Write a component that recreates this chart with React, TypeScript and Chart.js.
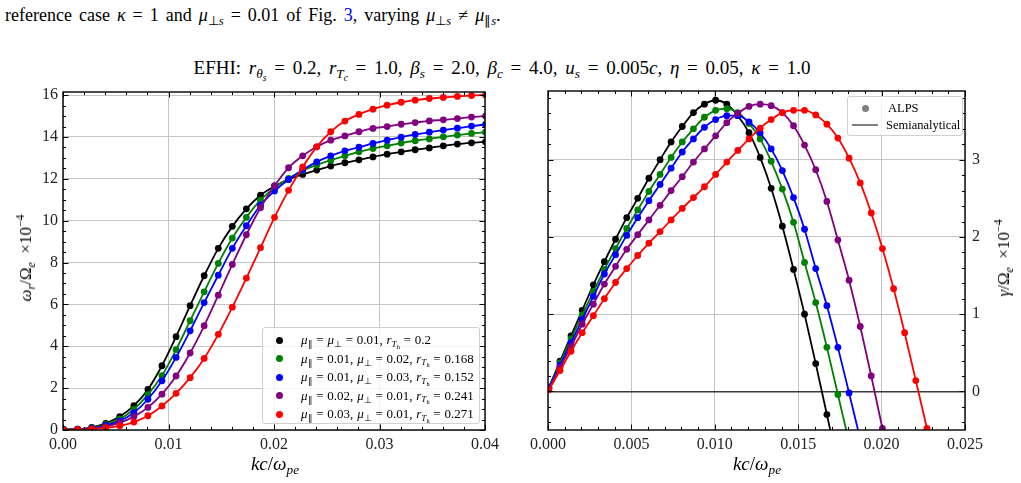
import React, { useEffect, useRef } from 'react';
import { Chart, registerables } from 'chart.js';
Chart.register(...registerables);

// ---------------- data ----------------
const kLeft = [0.00005, 0.00138, 0.00272, 0.00405, 0.00538, 0.00672, 0.00805, 0.00938, 0.01072, 0.01205, 0.01338, 0.01472, 0.01605, 0.01738, 0.01872, 0.02005, 0.02138, 0.02272, 0.02405, 0.02538, 0.02672, 0.02805, 0.02938, 0.03072, 0.03205, 0.03338, 0.03472, 0.03605, 0.03738, 0.03872, 0.04005];
const wrBlack = [0.03, 0.04, 0.13, 0.32, 0.64, 1.16, 1.94, 3.07, 4.46, 5.94, 7.37, 8.68, 9.73, 10.57, 11.22, 11.65, 11.97, 12.21, 12.42, 12.61, 12.77, 12.91, 13.05, 13.18, 13.29, 13.39, 13.48, 13.58, 13.66, 13.72, 13.77];
const wrGreen = [0.03, 0.04, 0.10, 0.27, 0.52, 0.99, 1.69, 2.60, 3.84, 5.22, 6.60, 7.96, 9.17, 10.16, 10.98, 11.58, 12.02, 12.40, 12.66, 12.89, 13.10, 13.29, 13.45, 13.58, 13.71, 13.82, 13.91, 14.01, 14.09, 14.17, 14.23];
const wrBlue = [0.02, 0.03, 0.08, 0.22, 0.43, 0.83, 1.47, 2.35, 3.47, 4.74, 6.09, 7.40, 8.68, 9.76, 10.74, 11.42, 11.97, 12.42, 12.81, 13.10, 13.34, 13.51, 13.69, 13.85, 13.99, 14.12, 14.23, 14.33, 14.42, 14.52, 14.60];
const wrPurple = [0.02, 0.02, 0.05, 0.16, 0.35, 0.64, 1.08, 1.71, 2.58, 3.68, 4.98, 6.44, 7.91, 9.33, 10.62, 11.67, 12.53, 13.10, 13.53, 13.85, 14.05, 14.25, 14.41, 14.50, 14.61, 14.69, 14.77, 14.82, 14.88, 14.95, 15.00];
const wrRed = [0.00, 0.02, 0.04, 0.10, 0.20, 0.38, 0.68, 1.15, 1.75, 2.50, 3.42, 4.57, 5.87, 7.26, 8.71, 10.16, 11.45, 12.57, 13.53, 14.25, 14.76, 15.08, 15.33, 15.52, 15.66, 15.76, 15.84, 15.89, 15.94, 15.98, 16.01];

const kRight = [0.00005, 0.00072, 0.00138, 0.00205, 0.00272, 0.00338, 0.00405, 0.00472, 0.00538, 0.00605, 0.00672, 0.00738, 0.00805, 0.00872, 0.00938, 0.01005, 0.01072, 0.01138, 0.01205, 0.01272, 0.01338, 0.01405, 0.01472, 0.01538, 0.01605, 0.01672, 0.01738, 0.01805, 0.01872, 0.01938, 0.02005, 0.02072, 0.02138, 0.02205, 0.02272, 0.02338];
const gBlack = [0.05, 0.39, 0.72, 1.05, 1.38, 1.68, 1.97, 2.25, 2.50, 2.76, 3.00, 3.23, 3.43, 3.61, 3.72, 3.77, 3.72, 3.57, 3.35, 3.03, 2.63, 2.14, 1.58, 1.00, 0.36, -0.30, -0.96];
const gGreen = [0.05, 0.37, 0.68, 0.99, 1.29, 1.58, 1.85, 2.11, 2.35, 2.59, 2.81, 3.03, 3.23, 3.40, 3.55, 3.64, 3.66, 3.61, 3.47, 3.27, 2.98, 2.62, 2.19, 1.67, 1.15, 0.57, -0.04, -0.66];
const gBlue = [0.05, 0.34, 0.63, 0.93, 1.23, 1.52, 1.77, 2.02, 2.25, 2.47, 2.68, 2.89, 3.10, 3.27, 3.42, 3.52, 3.57, 3.57, 3.49, 3.35, 3.14, 2.86, 2.51, 2.10, 1.59, 1.11, 0.57, -0.02, -0.62];
const gPurple = [0.03, 0.31, 0.58, 0.87, 1.13, 1.39, 1.62, 1.84, 2.03, 2.22, 2.41, 2.60, 2.78, 2.97, 3.14, 3.31, 3.48, 3.60, 3.69, 3.72, 3.70, 3.61, 3.44, 3.19, 2.87, 2.46, 1.96, 1.44, 0.84, 0.20, -0.48, -1.20];
const gRed = [0.02, 0.27, 0.52, 0.76, 0.98, 1.20, 1.41, 1.59, 1.76, 1.92, 2.07, 2.22, 2.37, 2.51, 2.65, 2.81, 2.97, 3.12, 3.27, 3.41, 3.52, 3.61, 3.64, 3.64, 3.58, 3.46, 3.28, 3.02, 2.70, 2.31, 1.85, 1.33, 0.76, 0.14, -0.48, -1.12];

const leftXTicks = [0, 0.01, 0.02, 0.03, 0.04];
const leftYTicks = [0, 2, 4, 6, 8, 10, 12, 14, 16];
const rightXTicks = [0, 0.005, 0.01, 0.015, 0.02, 0.025];
const rightYTicks = [0, 1, 2, 3];

// ---------------- styles ----------------
const SERIF = '"Liberation Serif", "Times New Roman", serif';
const COLORS = ['#000000', '#008000', '#0000ff', '#800080', '#ff0000'];
const GRID = '#c4c4c4';

const frameTicks = {
  id: 'frameTicks',
  afterDatasetsDraw(chart: any, _a: any, opts: any) {
    const { ctx, chartArea: a, scales } = chart;
    const xs = scales.x, ys = scales.y;
    ctx.save();
    ctx.strokeStyle = '#000';
    ctx.lineWidth = 1;
    const range = (min: number, max: number, step: number) => {
      const out: number[] = [];
      const k0 = Math.ceil(min / step - 1e-9), k1 = Math.floor(max / step + 1e-9);
      for (let k = k0; k <= k1; k++) out.push(k * step);
      return out;
    };
    const xt = (vals: number[], len: number) => {
      vals.forEach((v) => {
        const p = Math.round(xs.getPixelForValue(v)) + 0.5;
        ctx.beginPath();
        ctx.moveTo(p, a.bottom); ctx.lineTo(p, a.bottom - len);
        ctx.moveTo(p, a.top); ctx.lineTo(p, a.top + len);
        ctx.stroke();
      });
    };
    const yt = (vals: number[], len: number) => {
      vals.forEach((v) => {
        const p = Math.round(ys.getPixelForValue(v)) + 0.5;
        ctx.beginPath();
        ctx.moveTo(a.left, p); ctx.lineTo(a.left + len, p);
        ctx.moveTo(a.right, p); ctx.lineTo(a.right - len, p);
        ctx.stroke();
      });
    };
    xt(range(xs.min, xs.max, opts.xMinor), 3);
    yt(range(ys.min, ys.max, opts.yMinor), 3);
    xt(range(xs.min, xs.max, opts.xMajor), 5.5);
    yt(range(ys.min, ys.max, opts.yMajor), 5.5);
    ctx.lineWidth = 1.4;
    ctx.strokeRect(a.left, a.top, a.right - a.left, a.bottom - a.top);
    ctx.restore();
  },
};

const mk = (xs: number[], ys: number[], color: string, order: number) => ({
  data: ys.map((y, i) => ({ x: xs[i], y })),
  borderColor: color,
  backgroundColor: color,
  pointBackgroundColor: color,
  pointBorderWidth: 0,
  pointRadius: 3.4,
  pointHoverRadius: 3.4,
  borderWidth: 1.8,
  cubicInterpolationMode: 'monotone',
  clip: 0,
  order,
});

const tickFont = { family: SERIF, size: 16 };
const zeroPad = (s: any) => { s.paddingTop = 0; s.paddingBottom = 0; s.paddingLeft = 0; s.paddingRight = 0; };

function leftConfig(): any {
  return {
    type: 'line',
    data: {
      datasets: [
        mk(kLeft, wrBlack, COLORS[0], 5),
        mk(kLeft, wrGreen, COLORS[1], 4),
        mk(kLeft, wrBlue, COLORS[2], 3),
        mk(kLeft, wrPurple, COLORS[3], 2),
        mk(kLeft, wrRed, COLORS[4], 1),
      ],
    },
    options: {
      responsive: false,
      animation: false,
      devicePixelRatio: 1,
      events: [],
      layout: { padding: { left: 0, top: 12, right: 15, bottom: 0 } },
      plugins: {
        legend: { display: false },
        tooltip: { enabled: false },
        frameTicks: { xMajor: 0.01, xMinor: 0.002, yMajor: 2, yMinor: 0.5 },
      },
      scales: {
        x: {
          type: 'linear', min: 0, max: 0.04,
          afterBuildTicks: (s: any) => { s.ticks = leftXTicks.map((v) => ({ value: v })); },
          afterFit: (s: any) => { s.height = 53; zeroPad(s); },
          ticks: { font: tickFont, color: '#222', padding: 5, maxRotation: 0, autoSkip: false, callback: (v: any) => Number(v).toFixed(2) },
          grid: { color: GRID, lineWidth: 1, drawTicks: false },
          border: { display: false },
        },
        y: {
          type: 'linear', min: 0, max: 16.15,
          afterBuildTicks: (s: any) => { s.ticks = leftYTicks.map((v) => ({ value: v })); },
          afterFit: (s: any) => { s.width = 63; zeroPad(s); },
          ticks: { font: tickFont, color: '#222', padding: 5, autoSkip: false, callback: (v: any) => String(v) },
          grid: { color: GRID, lineWidth: 1, drawTicks: false },
          border: { display: false },
        },
      },
    },
    plugins: [frameTicks],
  };
}

function rightConfig(): any {
  return {
    type: 'line',
    data: {
      datasets: [
        mk(kRight, gBlack, COLORS[0], 5),
        mk(kRight, gGreen, COLORS[1], 4),
        mk(kRight, gBlue, COLORS[2], 3),
        mk(kRight, gPurple, COLORS[3], 2),
        mk(kRight, gRed, COLORS[4], 1),
      ],
    },
    options: {
      responsive: false,
      animation: false,
      devicePixelRatio: 1,
      events: [],
      layout: { padding: { left: 28, top: 11, right: 0, bottom: 0 } },
      plugins: {
        legend: { display: false },
        tooltip: { enabled: false },
        frameTicks: { xMajor: 0.005, xMinor: 0.001, yMajor: 1, yMinor: 0.2 },
      },
      scales: {
        x: {
          type: 'linear', min: 0, max: 0.025,
          afterBuildTicks: (s: any) => { s.ticks = rightXTicks.map((v) => ({ value: v })); },
          afterFit: (s: any) => { s.height = 53; zeroPad(s); },
          ticks: { font: tickFont, color: '#222', padding: 5, maxRotation: 0, autoSkip: false, callback: (v: any) => Number(v).toFixed(3) },
          grid: { color: GRID, lineWidth: 1, drawTicks: false },
          border: { display: false },
        },
        y: {
          type: 'linear', position: 'right', min: -0.5, max: 3.89,
          afterBuildTicks: (s: any) => { s.ticks = rightYTicks.map((v) => ({ value: v })); },
          afterFit: (s: any) => { s.width = 56; zeroPad(s); },
          ticks: { font: tickFont, color: '#222', padding: 7, autoSkip: false, callback: (v: any) => String(v) },
          grid: {
            color: (c: any) => (c.tick && c.tick.value === 0 ? '#3a3a3a' : GRID),
            lineWidth: (c: any) => (c.tick && c.tick.value === 0 ? 1.6 : 1),
            drawTicks: false,
          },
          border: { display: false },
        },
      },
    },
    plugins: [frameTicks],
  };
}

function ChartCanvas({ make, left, top, width, height }: any) {
  const ref = useRef<HTMLCanvasElement>(null);
  useEffect(() => {
    const chart = new Chart(ref.current as HTMLCanvasElement, make());
    return () => chart.destroy();
  }, []);
  return (
    <canvas
      ref={ref}
      width={width}
      height={height}
      style={{ position: 'absolute', left, top, width, height }}
    />
  );
}

const subS: React.CSSProperties = { fontSize: '0.7em', verticalAlign: '-0.3em', lineHeight: 0 };
const supS: React.CSSProperties = { fontSize: '0.7em', verticalAlign: '0.55em', lineHeight: 0 };
const Sub = ({ children }: any) => <span style={subS}>{children}</span>;
const Sup = ({ children }: any) => <span style={supS}>{children}</span>;
const I = ({ children }: any) => <i>{children}</i>;

const MuPar = () => (<><I>μ</I><Sub>∥</Sub></>);
const MuPerp = () => (<><I>μ</I><Sub>⊥</Sub></>);
const RTh = () => (<><I>r</I><Sub><I>T</I><Sub>h</Sub></Sub></>);

const legendRows = [
  <><MuPar /> = <MuPerp /> = 0.01, <RTh /> = 0.2</>,
  <><MuPar /> = 0.01, <MuPerp /> = 0.02, <RTh /> = 0.168</>,
  <><MuPar /> = 0.01, <MuPerp /> = 0.03, <RTh /> = 0.152</>,
  <><MuPar /> = 0.02, <MuPerp /> = 0.01, <RTh /> = 0.241</>,
  <><MuPar /> = 0.03, <MuPerp /> = 0.01, <RTh /> = 0.271</>,
];

export default function App() {
  return (
    <div style={{ position: 'fixed', left: 0, top: 0, width: 1021, height: 483, background: '#fff', fontFamily: SERIF, color: '#000', overflow: 'hidden' }}>
      <div style={{ position: 'absolute', left: 5, top: 4, fontSize: 18, wordSpacing: 2.5, whiteSpace: 'nowrap', lineHeight: '22px' }}>
        reference case <I>κ</I> = 1 and <I>μ</I><Sub>⊥<I>s</I></Sub> = 0.01 of Fig. <span style={{ color: '#0000ee' }}>3</span>, varying <I>μ</I><Sub>⊥<I>s</I></Sub> ≠ <I>μ</I><Sub>∥<I>s</I></Sub>.
      </div>
      <div style={{ position: 'absolute', left: 502, top: 57, transform: 'translateX(-50%)', fontSize: 19, wordSpacing: 3, whiteSpace: 'nowrap', lineHeight: '22px' }}>
        EFHI: <I>r</I><Sub><I>θ</I><Sub><I>s</I></Sub></Sub> = 0.2, <I>r</I><Sub><I>T</I><Sub><I>c</I></Sub></Sub> = 1.0, <I>β</I><Sub><I>s</I></Sub> = 2.0, <I>β</I><Sub><I>c</I></Sub> = 4.0, <I>u</I><Sub><I>s</I></Sub> = 0.005<I>c</I>, <I>η</I> = 0.05, <I>κ</I> = 1.0
      </div>

      <ChartCanvas make={leftConfig} left={0} top={80} width={500} height={403} />
      <ChartCanvas make={rightConfig} left={520} top={80} width={501} height={403} />

      {/* left axis titles */}
      <div style={{ position: 'absolute', left: 26, top: 258, transform: 'translate(-50%,-50%) rotate(-90deg)', fontSize: 17, whiteSpace: 'nowrap' }}>
        <I>ω</I><Sub><I>r</I></Sub>/Ω<Sub><I>e</I></Sub>&nbsp; ×10<Sup>−4</Sup>
      </div>
      <div style={{ position: 'absolute', left: 275, top: 464, transform: 'translate(-50%,-50%)', fontSize: 19, whiteSpace: 'nowrap' }}>
        <I>kc</I>/<I>ω</I><Sub><I>pe</I></Sub>
      </div>
      {/* right axis titles */}
      <div style={{ position: 'absolute', left: 1004, top: 258, transform: 'translate(-50%,-50%) rotate(-90deg)', fontSize: 17, whiteSpace: 'nowrap' }}>
        <I>γ</I>/Ω<Sub><I>e</I></Sub>&nbsp; ×10<Sup>−4</Sup>
      </div>
      <div style={{ position: 'absolute', left: 757, top: 464, transform: 'translate(-50%,-50%)', fontSize: 19, whiteSpace: 'nowrap' }}>
        <I>kc</I>/<I>ω</I><Sub><I>pe</I></Sub>
      </div>

      {/* left legend */}
      <div style={{ position: 'absolute', left: 262, top: 327, width: 218, height: 97, boxSizing: 'border-box', background: 'rgba(255,255,255,0.8)', border: '1px solid #d0d0d0', borderRadius: 3 }}>
        {legendRows.map((row, i) => (
          <div key={i} style={{ position: 'absolute', left: 0, top: 3 + i * 18.5, height: 18, display: 'flex', alignItems: 'center', fontSize: 13, wordSpacing: 0.5, whiteSpace: 'nowrap' }}>
            <span style={{ display: 'inline-block', width: 7, height: 7, borderRadius: '50%', background: COLORS[i], marginLeft: 13, marginRight: 18 }} />
            <span>{row}</span>
          </div>
        ))}
      </div>

      {/* right legend */}
      <div style={{ position: 'absolute', left: 847, top: 96, width: 116, height: 40, boxSizing: 'border-box', background: 'rgba(255,255,255,0.8)', border: '1px solid #d0d0d0', borderRadius: 3, fontSize: 12.5 }}>
        <div style={{ position: 'absolute', left: 0, top: 2, height: 18, display: 'flex', alignItems: 'center', whiteSpace: 'nowrap' }}>
          <span style={{ display: 'inline-block', width: 7, height: 7, borderRadius: '50%', background: '#808080', marginLeft: 14, marginRight: 19 }} />
          <span>ALPS</span>
        </div>
        <div style={{ position: 'absolute', left: 0, top: 19, height: 18, display: 'flex', alignItems: 'center', whiteSpace: 'nowrap' }}>
          <span style={{ display: 'inline-block', width: 26, height: 2, background: '#808080', marginLeft: 4, marginRight: 8 }} />
          <span>Semianalytical</span>
        </div>
      </div>
    </div>
  );
}
